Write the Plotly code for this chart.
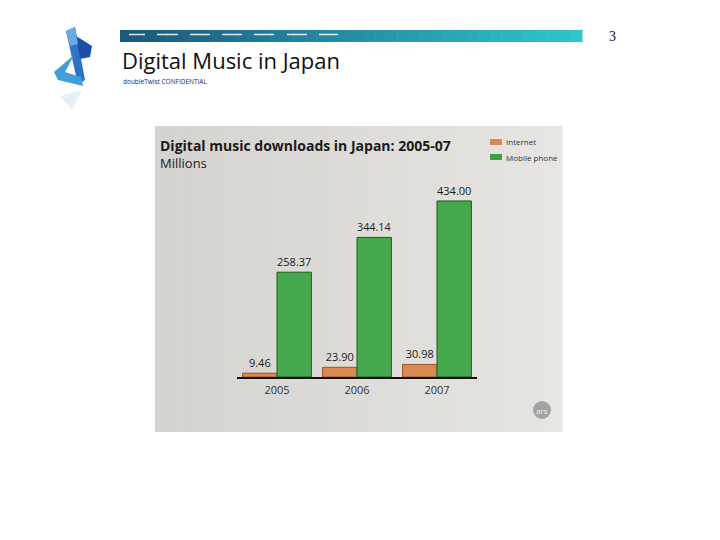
import plotly.graph_objects as go

years = ["2005", "2006", "2007"]
internet = [9.46, 23.90, 30.98]
mobile = [258.37, 344.14, 434.00]
series_names = ["Internet", "Mobile phone"]

W, H = 720, 540
OFF = 8  # page body margin

def px(x):
    return (x - OFF) / W

def py(y):
    return 1 - (y - OFF) / H

def lerp(c1, c2, t):
    return "#%02x%02x%02x" % tuple(round(a + (b - a) * t) for a, b in zip(c1, c2))

fig = go.Figure()

fig.add_trace(go.Bar(
    x=years, y=internet, name=series_names[0],
    marker=dict(color="#d98a50", line=dict(color="#9a5428", width=1)),
    texttemplate="%{y:.2f}", textposition="outside",
    textfont=dict(size=11, color="#1a1a1a", family="Open Sans"),
    cliponaxis=False, showlegend=False,
))
fig.add_trace(go.Bar(
    x=years, y=mobile, name=series_names[1],
    marker=dict(color="#46a84c", line=dict(color="#1c5a1e", width=1)),
    texttemplate="%{y:.2f}", textposition="outside",
    textfont=dict(size=11, color="#1a1a1a", family="Open Sans"),
    cliponaxis=False, showlegend=False,
))

shapes = []
# chart image background (gradient strips)
n = 40
x0, x1, y0, y1 = 155, 562, 126, 432
for i in range(n):
    a = x0 + (x1 - x0) * i / n
    b = x0 + (x1 - x0) * (i + 1) / n + 0.5
    shapes.append(dict(type="rect", xref="paper", yref="paper", layer="below",
                       x0=px(a), x1=px(b), y0=py(y1), y1=py(y0),
                       fillcolor=lerp((213, 211, 207), (231, 229, 226), i / (n - 1)),
                       line=dict(width=0)))
# header bar gradient
n = 40
hx0, hx1 = 120, 582
for i in range(n):
    a = hx0 + (hx1 - hx0) * i / n
    b = hx0 + (hx1 - hx0) * (i + 1) / n + 0.5
    shapes.append(dict(type="rect", xref="paper", yref="paper", layer="below",
                       x0=px(a), x1=px(b), y0=py(42), y1=py(30),
                       fillcolor=lerp((26, 88, 124), (48, 196, 204), i / (n - 1)),
                       line=dict(width=0)))
for a, b in [(129, 145), (157, 178), (190, 210), (222, 242), (254, 274), (287, 307), (319, 338)]:
    shapes.append(dict(type="line", xref="paper", yref="paper",
                       x0=px(a), x1=px(b), y0=py(34.5), y1=py(34.5),
                       line=dict(color="rgba(255,255,255,0.85)", width=1.5)))

def poly(pts, color):
    d = "M " + " L ".join(f"{px(x)},{py(y)}" for x, y in pts) + " Z"
    return dict(type="path", xref="paper", yref="paper", path=d,
                fillcolor=color, line=dict(width=0))

# logo
shapes.append(poly([(66, 31), (75, 27), (85, 80), (78, 85)], "#2f74c4"))
shapes.append(poly([(76, 36), (92, 46), (90, 57), (80, 59)], "#1d4ea6"))
shapes.append(poly([(74, 55), (54, 72), (58, 80), (83, 86), (81, 77), (65, 72)], "#3f9fd6"))
shapes.append(poly([(66, 31), (75, 27), (78, 44), (70, 46)], "#6aa8e6"))
shapes.append(poly([(60, 96), (82, 90), (72, 110)], "#e6f0f6"))
# legend swatches
shapes.append(dict(type="rect", xref="paper", yref="paper", x0=px(490), x1=px(502),
                   y0=py(145), y1=py(139), fillcolor="#d98a50", line=dict(width=0)))
shapes.append(dict(type="rect", xref="paper", yref="paper", x0=px(490), x1=px(502),
                   y0=py(160), y1=py(154), fillcolor="#3f9f44", line=dict(width=0)))
# ars badge
shapes.append(dict(type="circle", xref="paper", yref="paper", x0=px(533), x1=px(551),
                   y0=py(419), y1=py(401), fillcolor="#a3a3a3", line=dict(width=0)))

annotations = [
    dict(text="Digital Music in Japan", x=px(120), y=py(60), xanchor="left", yanchor="middle",
         font=dict(size=22, color="#111111", family="Open Sans")),
    dict(text="doubleTwist CONFIDENTIAL", x=px(121), y=py(81), xanchor="left", yanchor="middle",
         font=dict(size=6.5, color="#1a2a4a", family="Open Sans")),
    dict(text="3", x=px(612), y=py(37), xanchor="center", yanchor="middle",
         font=dict(size=14, color="#111111", family="Liberation Serif")),
    dict(text="<b>Digital music downloads in Japan: 2005-07</b>", x=px(158), y=py(145),
         xanchor="left", yanchor="middle",
         font=dict(size=14, color="#1a1a1a", family="Open Sans")),
    dict(text="Millions", x=px(158), y=py(163), xanchor="left", yanchor="middle",
         font=dict(size=13, color="#1a1a1a", family="Open Sans")),
    dict(text=series_names[0], x=px(504), y=py(142), xanchor="left", yanchor="middle",
         font=dict(size=8, color="#333333", family="Open Sans")),
    dict(text=series_names[1], x=px(504), y=py(157), xanchor="left", yanchor="middle",
         font=dict(size=8, color="#333333", family="Open Sans")),
    dict(text="ars", x=px(542), y=py(410), xanchor="center", yanchor="middle",
         font=dict(size=8, color="#f0f0f0", family="Open Sans")),
]
for a in annotations:
    a.update(xref="paper", yref="paper", showarrow=False)

fig.update_layout(
    width=W, height=H,
    margin=dict(l=0, r=0, t=0, b=0),
    paper_bgcolor="white", plot_bgcolor="rgba(0,0,0,0)",
    barmode="group", bargap=0.14, bargroupgap=0,
    showlegend=False,
    xaxis=dict(domain=[px(237), px(477)], range=[-0.5, 2.5], showgrid=False,
               showline=True, linecolor="#111111", linewidth=1.5, ticks="",
               ticklabelstandoff=2,
               tickfont=dict(size=11, color="#333333", family="Open Sans"), fixedrange=True),
    yaxis=dict(domain=[py(377), py(190)], range=[0, 461], visible=False, fixedrange=True),
    shapes=shapes, annotations=annotations,
)

fig.write_html("out.html")
